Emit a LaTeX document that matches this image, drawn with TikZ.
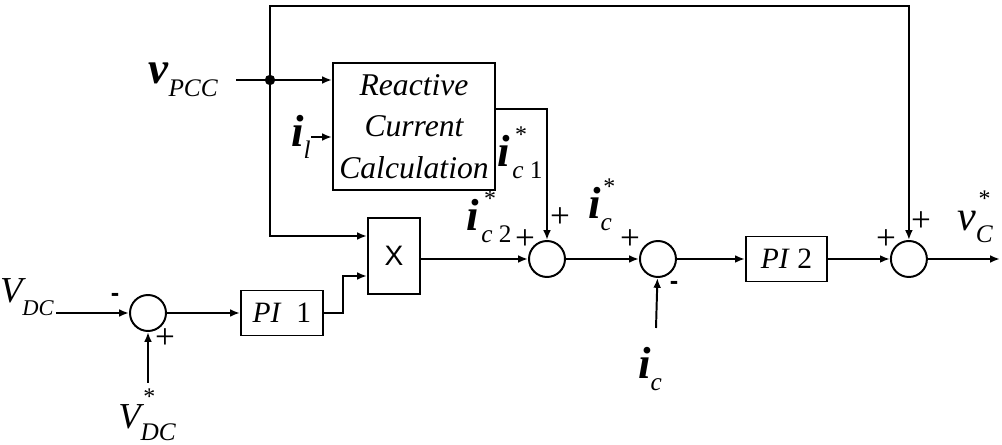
\documentclass[tikz,border=0pt]{standalone}
\usepackage{fontspec}
\setmainfont{Liberation Serif}
\setsansfont{Liberation Sans}
\usetikzlibrary{arrows.meta, positioning, calc}
\tikzset{
    box/.style={draw, line width=1.4pt, fill=white, align=center, inner sep=0pt},
    sumnode/.style={draw, circle, line width=1.4pt, minimum size=0.9cm, inner sep=0pt},
    junction/.style={circle, fill, minimum size=0.26cm, inner sep=0pt},
    arrow/.style={-{Latex[length=7pt, width=5.5pt]}, line width=1.4pt},
    wire/.style={line width=1.4pt},
    sgn/.style={font=\fontsize{25}{25}\selectfont, inner sep=0pt},
    minus/.style={font=\sffamily\bfseries\fontsize{18}{18}\selectfont, inner sep=0pt},
    lbl/.style={inner sep=0pt}
}
\newcommand{\sigmain}[1]{{\fontsize{32}{32}\selectfont\bfseries\itshape #1}}
\newcommand{\sigsub}[1]{\raisebox{-9pt}{\fontsize{18}{18}\selectfont\itshape #1}}
\newcommand{\sigstar}{\rlap{\raisebox{17pt}{\kern2pt\fontsize{17}{17}\selectfont\upshape *}}}

\begin{document}
\begin{tikzpicture}
    \useasboundingbox (0,0) rectangle (25.05,11.125);

    % summing points and blocks
    \node [sumnode] (s0) at (3.70,3.30) {};
    \node [box, minimum width=2.05cm, minimum height=1.125cm, right=1.825cm of s0, font=\fontsize{21}{21}\selectfont] (pi1) {\textit{PI}\enspace 1};
    \node [box, minimum width=1.3cm, minimum height=1.9cm, font=\sffamily\fontsize{20}{20}\selectfont] (mult) at (9.85,4.725) {X};
    \node [box, minimum width=4.05cm, minimum height=3.175cm, font=\fontsize{22.5}{29.5}\selectfont\itshape] (rcc) at (10.35,7.9625) {Reactive\\Current\\Calculation};
    \node [sumnode] (s1) at (13.675,4.65) {};
    \node [sumnode, right=1.825cm of s1] (s2) {};
    \node [box, minimum width=2.025cm, minimum height=1.125cm, right=1.7cm of s2, font=\fontsize{21}{21}\selectfont] (pi2) {\textit{PI} 2};
    \node [sumnode, right=1.55cm of pi2] (s3) {};
    \node [junction] (dot) at (6.75,9.125) {};

    % free ends
    \coordinate (vdcin) at (1.4,3.30);
    \coordinate (vdcref) at (3.70,1.55);
    \coordinate (vin) at (5.9,9.125);
    \coordinate (ilin) at (7.775,7.7);
    \coordinate (fb) at (6.75,10.975);
    \coordinate (icin) at (16.4,2.925);
    \coordinate (vout) at (25.0,4.65);

    % connectors
    \draw [arrow] (vdcin) -- (s0);
    \draw [arrow] (vdcref) -- (s0);
    \draw [arrow] (s0) -- (pi1);
    \draw [arrow] (pi1.east) -- ++(0.475,0) |- ([yshift=-0.5cm]mult.west);
    \draw [wire] (vin) -- (dot);
    \draw [arrow] (dot) -- (rcc.west |- dot);
    \draw [arrow] (dot) |- ([yshift=0.5cm]mult.west);
    \draw [arrow] (dot) -- (fb) -| (s3.north);
    \draw [arrow] (ilin) -- (rcc.west |- ilin);
    \draw [arrow] ([yshift=0.4375cm]rcc.east) -| (s1.north);
    \draw [arrow] (mult.east |- s1) -- (s1);
    \draw [arrow] (s1) -- (s2);
    \draw [arrow] (s2) -- (pi2);
    \draw [arrow] (pi2) -- (s3);
    \draw [arrow] (icin) -- (s2);
    \draw [arrow] (s3) -- (vout);

    % signals
    \node [lbl, left=0.45cm of vin] (vpcc) {\sigmain{v}\sigsub{PCC}};
    \node [lbl, left=0pt of ilin] (il) {\sigmain{i}\sigsub{l}};
    \node [lbl] (ic1) at (13.0,7.3) {\sigmain{i}\,\sigstar\sigsub{c \upshape 1}};
    \node [lbl] (ic2) at (12.225,5.7) {\sigmain{i}\,\sigstar\sigsub{c \upshape 2}};
    \node [lbl] (icref) at (15.0,6.0) {\sigmain{i}\sigstar\sigsub{c}};
    \node [lbl] (vcref) at (24.375,5.7) {{\fontsize{30}{30}\selectfont\itshape v}\sigstar\sigsub{C}};
    \node [lbl, left=0.05cm of vdcin, yshift=0.4cm] (vdc) {{\fontsize{26}{26}\selectfont\itshape V}\sigsub{\fontsize{16}{16}\selectfont DC}};
    \node [lbl] (vdcstar) at (3.675,0.75) {{\fontsize{26}{26}\selectfont\itshape V}\sigstar\sigsub{DC}};
    \node [lbl] (ic) at (16.25,1.9) {\sigmain{i}\sigsub{c}};

    % signs
    \node [minus] at ([shift={(-0.825,0.40)}]s0) {-};
    \node [sgn] at ([shift={(0.425,-0.65)}]s0) {+};
    \node [sgn] at ([shift={(-0.55,0.475)}]s1) {+};
    \node [sgn] at ([shift={(0.325,1.025)}]s1) {+};
    \node [sgn] at ([shift={(-0.7,0.475)}]s2) {+};
    \node [minus] at ([shift={(0.4,-0.65)}]s2) {-};
    \node [sgn] at ([shift={(-0.575,0.475)}]s3) {+};
    \node [sgn] at ([shift={(0.3,0.925)}]s3) {+};
\end{tikzpicture}
\end{document}
